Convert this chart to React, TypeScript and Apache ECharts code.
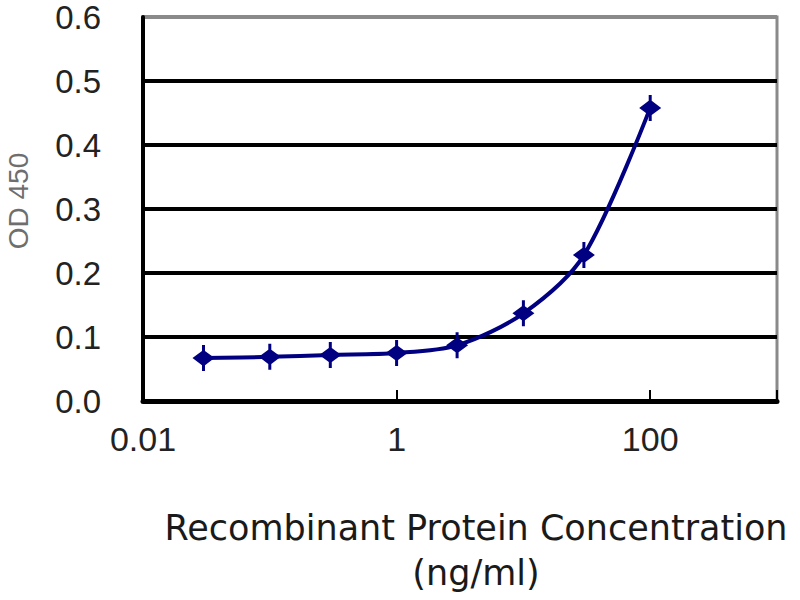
import React, { useEffect, useRef } from "react";
import * as echarts from "echarts";

const concentrations = [0.03, 0.1, 0.3, 1, 3, 10, 30, 100];
const od450 = [0.067, 0.069, 0.072, 0.075, 0.087, 0.137, 0.228, 0.458];
const xTickLabels: Record<number, string> = { [-2]: "0.01", 0: "1", 2: "100" };
const yAxisTitle = "OD 450";
const xAxisTitle = "Recombinant Protein Concentration\n(ng/ml)";

const markerPath =
  "path://M-1.5,-12 L1.5,-12 L1.5,-6.5 L11,0 L1.5,6.5 L1.5,12 L-1.5,12 L-1.5,6.5 L-11,0 L-1.5,-6.5 Z";

export default function App() {
  const ref = useRef<HTMLDivElement>(null);
  useEffect(() => {
    if (!ref.current) return;
    const chart = echarts.init(ref.current, null, { renderer: "svg" });
    chart.setOption({
      animation: false,
      backgroundColor: "#ffffff",
      grid: {
        left: 143,
        right: 23,
        top: 17,
        bottom: 199,
        show: true,
        borderColor: "#8a8a8a",
        borderWidth: 3,
        backgroundColor: "#ffffff",
      },
      graphic: [
        {
          type: "text",
          x: 18,
          y: 201,
          rotation: Math.PI / 2,
          style: {
            text: yAxisTitle,
            fontFamily: "Liberation Sans, Arial",
            fontSize: 28,
            fill: "#6e6e6e",
            align: "center",
            verticalAlign: "middle",
          },
        },
      ],
      xAxis: {
        type: "log",
        logBase: 10,
        min: 0.01,
        max: 1000,
        interval: 2,
        name: xAxisTitle,
        nameLocation: "middle",
        nameGap: 104,
        nameTextStyle: {
          fontFamily: "DejaVu Sans",
          fontSize: 35,
          color: "#1a1a1a",
          lineHeight: 45,
          padding: [0, 0, 0, 32],
        },
        axisLine: { show: true, onZero: false, lineStyle: { color: "#000", width: 5 } },
        axisTick: { show: true, inside: true, length: 11, lineStyle: { color: "#000", width: 2 } },
        splitLine: { show: false },
        minorTick: { show: false },
        axisLabel: {
          margin: 21,
          fontFamily: "Liberation Sans, Arial",
          fontSize: 34,
          color: "#222",
          formatter: (v: number) => {
            const e = Math.round(Math.log10(v));
            return xTickLabels[e] ?? "";
          },
        },
      },
      yAxis: {
        type: "value",
        min: 0,
        max: 0.6,
        interval: 0.1,
        axisLine: { show: true, lineStyle: { color: "#000", width: 4 } },
        axisTick: { show: false },
        splitLine: {
          show: true,
          lineStyle: {
            color: ["#000", "#000", "#000", "#000", "#000", "#000", "#8a8a8a"],
            width: 4,
          },
        },
        axisLabel: {
          margin: 42,
          fontFamily: "Liberation Sans, Arial",
          fontSize: 33,
          lineHeight: 30,
          color: "#222",
          formatter: (v: number) => v.toFixed(1),
        },
      },
      series: [
        {
          type: "line",
          data: concentrations.map((c, i) => [c, od450[i]]),
          smooth: 0.3,
          lineStyle: { color: "#000080", width: 4 },
          itemStyle: { color: "#000080" },
          symbol: markerPath,
          symbolSize: [22, 26],
          showSymbol: true,
          z: 5,
        },
      ],
    });
    return () => chart.dispose();
  }, []);
  return <div ref={ref} style={{ width: 800, height: 600, position: "absolute", left: 0, top: 0 }} />;
}
